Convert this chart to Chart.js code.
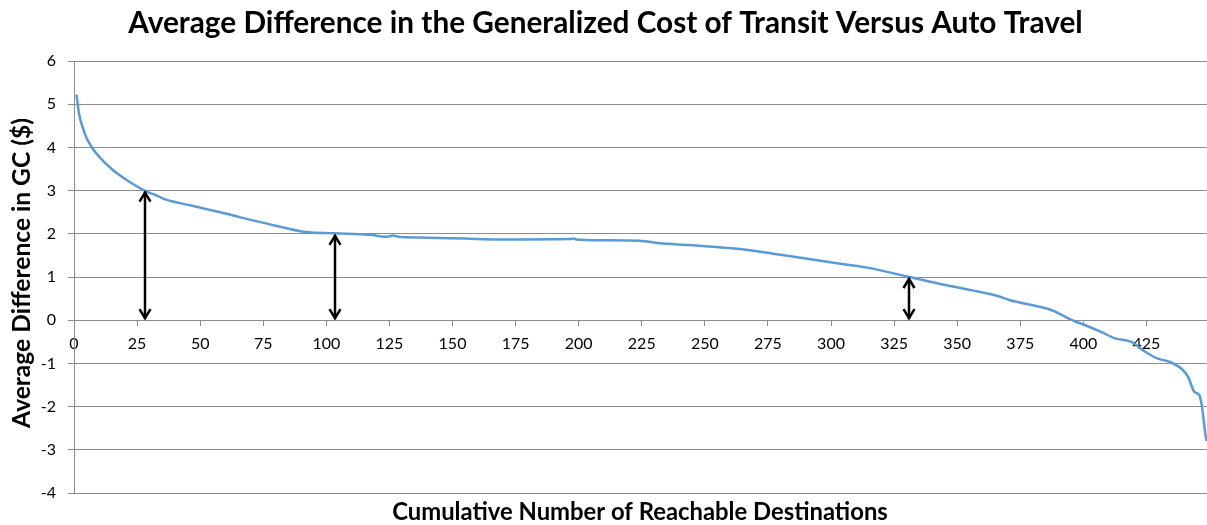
<!DOCTYPE html>
<html><head><meta charset="utf-8">
<script src="https://cdn.jsdelivr.net/npm/chart.js@4.4.1/dist/chart.umd.min.js"></script>
<style>html,body{margin:0;padding:0;background:#fff;}canvas{display:block;}</style>
</head><body>
<canvas id="c" width="1207" height="525"></canvas>
<script>
// ---- data ----
const destinations = [1, 2, 3.5, 5, 7, 10, 15.5, 21, 28, 33, 36.5, 46, 60, 66, 79, 92, 103, 118, 124, 126.5, 128, 140, 155, 168, 197, 198, 199, 209, 224, 232, 244, 253, 264, 277, 290, 303, 316, 331, 342.5, 356, 366, 371, 379.5, 387.5, 395.5, 400, 407, 412.5, 419, 424.5, 429.5, 434, 439, 441.5, 444, 446, 447, 448.5, 448.9];
const gcDifference = [5.22, 4.78, 4.45, 4.21, 4.01, 3.78, 3.47, 3.24, 3.00, 2.88, 2.79, 2.66, 2.47, 2.38, 2.20, 2.04, 2.01, 1.97, 1.93, 1.96, 1.94, 1.91, 1.89, 1.87, 1.88, 1.89, 1.87, 1.85, 1.84, 1.78, 1.74, 1.70, 1.65, 1.54, 1.43, 1.31, 1.20, 1.00, 0.85, 0.69, 0.56, 0.46, 0.35, 0.23, 0.00, -0.10, -0.27, -0.42, -0.50, -0.73, -0.89, -0.96, -1.13, -1.31, -1.66, -1.74, -2.00, -2.70, -2.80];
const arrowAt = [28, 103.5, 331];
const arrowTo = [3, 2, 1];
const xMin = 0, xMax = 449, xStep = 25;
const yMin = -4, yMax = 6, yStep = 1;
const chartTitle = "Average Difference in the Generalized Cost of Transit Versus Auto Travel";
const xTitle = "Cumulative Number of Reachable Destinations";
const yTitle = "Average Difference in GC ($)";

const FONT = "Lato, 'Open Sans', sans-serif";
const GRID = '#8c8c8c';

function fitBold(ctx, text, targetW) {
  ctx.font = `bold 20px ${FONT}`;
  const w = ctx.measureText(text).width;
  const size = 20 * targetW / w;
  ctx.font = `bold ${size}px ${FONT}`;
}

const annot = {
  id: 'annot',
  afterDatasetsDraw(chart) {
    const {ctx, scales: {x, y}} = chart;
    ctx.save();
    ctx.strokeStyle = '#000';
    ctx.lineWidth = 2.5;
    ctx.lineJoin = 'miter';
    arrowAt.forEach((v, i) => {
      const px = Math.round(x.getPixelForValue(v));
      const y0 = y.getPixelForValue(0) - 1;
      const y1 = y.getPixelForValue(arrowTo[i]) + 1;
      ctx.beginPath(); ctx.moveTo(px, y0); ctx.lineTo(px, y1); ctx.stroke();
      ctx.beginPath(); ctx.moveTo(px - 5.5, y1 + 10); ctx.lineTo(px, y1 + 1); ctx.lineTo(px + 5.5, y1 + 10); ctx.stroke();
      ctx.beginPath(); ctx.moveTo(px - 5.5, y0 - 10); ctx.lineTo(px, y0 - 1); ctx.lineTo(px + 5.5, y0 - 10); ctx.stroke();
    });
    ctx.restore();
  },
  afterDraw(chart) {
    const ctx = chart.ctx;
    ctx.save();
    ctx.fillStyle = '#000';
    ctx.textAlign = 'center';
    ctx.textBaseline = 'middle';
    fitBold(ctx, chartTitle, 955);
    ctx.fillText(chartTitle, 605.5, 23);
    fitBold(ctx, xTitle, 496);
    ctx.fillText(xTitle, 640, 512);
    ctx.translate(22, 273);
    ctx.rotate(-Math.PI / 2);
    fitBold(ctx, yTitle, 310);
    ctx.fillText(yTitle, 0, 0);
    ctx.restore();
  }
};

new Chart(document.getElementById('c'), {
  type: 'line',
  data: {
    datasets: [{
      data: destinations.map((d, i) => ({x: d, y: gcDifference[i]})),
      borderColor: '#5B9BD5',
      borderWidth: 2.5,
      pointRadius: 0,
      cubicInterpolationMode: 'monotone',
      fill: false
    }]
  },
  options: {
    responsive: false,
    animation: false,
    layout: {padding: {top: 61, bottom: 32, left: 0, right: 0}},
    plugins: {legend: {display: false}, tooltip: {enabled: false}, title: {display: false}},
    scales: {
      x: {
        type: 'linear',
        position: {y: 0},
        min: xMin, max: xMax,
        afterBuildTicks(s) { s.ticks = s.ticks.filter(t => t.value % xStep === 0); },
        ticks: {stepSize: xStep, color: '#000', font: {family: FONT, size: 16}, padding: 9, maxRotation: 0, autoSkip: false},
        grid: {drawOnChartArea: false, color: GRID, tickLength: 5},
        border: {display: true, color: GRID}
      },
      y: {
        min: yMin, max: yMax,
        afterFit(s) { s.width = 74; },
        ticks: {stepSize: yStep, color: '#000', font: {family: FONT, size: 16}, padding: 12},
        grid: {color: GRID, tickLength: 6},
        border: {display: true, color: GRID}
      }
    }
  },
  plugins: [annot]
});
</script>
</body></html>
